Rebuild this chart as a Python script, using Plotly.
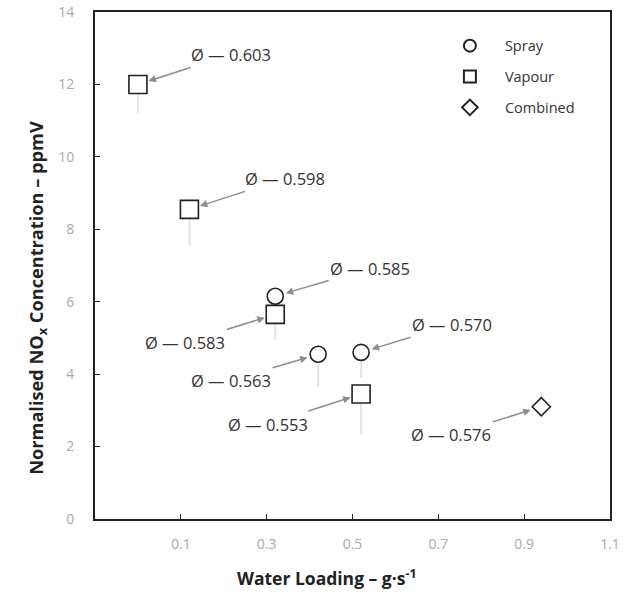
import plotly.graph_objects as go

# ---- data ----
spray_x = [0.32, 0.42, 0.52]
spray_y = [6.15, 4.55, 4.60]
spray_err = [0.6, 0.9, 0.7]

vapour_x = [0.00, 0.12, 0.32, 0.52]
vapour_y = [12.0, 8.55, 5.65, 3.45]
vapour_err = [0.8, 1.0, 0.7, 1.1]

combined_x = [0.94]
combined_y = [3.10]
combined_err = [0.4]

phi_labels = ["Ø — 0.603", "Ø — 0.598", "Ø — 0.585", "Ø — 0.583",
              "Ø — 0.563", "Ø — 0.570", "Ø — 0.553", "Ø — 0.576"]
phi_x = [0.00, 0.12, 0.32, 0.32, 0.42, 0.52, 0.52, 0.94]
phi_y = [12.0, 8.55, 6.15, 5.65, 4.55, 4.60, 3.45, 3.10]

x_ticks = [0.1, 0.3, 0.5, 0.7, 0.9, 1.1]
y_ticks = [0, 2, 4, 6, 8, 10, 12, 14]

x_title = "<b>Water Loading – g·s<sup>-1</sup></b>"
y_title = "<b>Normalised NO<sub>x</sub> Concentration – ppmV</b>"

# ---- styles (pixel offsets of labels) ----
label_offsets = [(93, -30), (96, -31), (95, -28), (-90, 28),
                 (-87, 26), (91, -28), (-93, 30), (-90, 28)]

FONT = "Open Sans"
err_style = dict(type="data", symmetric=False, color="#e4e4e4", thickness=2, width=0)
mk_line = dict(color="#222", width=1.6)

fig = go.Figure()
fig.add_trace(go.Scatter(
    x=spray_x, y=spray_y, mode="markers", name="Spray", legendgroup="a",
    marker=dict(symbol="circle", size=16, color="white", line=mk_line),
    error_y=dict(array=[0]*len(spray_err), arrayminus=spray_err, **err_style)))
fig.add_trace(go.Scatter(
    x=vapour_x, y=vapour_y, mode="markers", name="Vapour", legendgroup="b",
    marker=dict(symbol="square", size=18, color="white", line=mk_line),
    error_y=dict(array=[0]*len(vapour_err), arrayminus=vapour_err, **err_style)))
fig.add_trace(go.Scatter(
    x=combined_x, y=combined_y, mode="markers", name="Combined", legendgroup="c",
    marker=dict(symbol="diamond", size=14, color="white", line=mk_line),
    error_y=dict(array=combined_err, arrayminus=[0]*len(combined_err), **err_style)))

for t, x, y, (ax, ay) in zip(phi_labels, phi_x, phi_y, label_offsets):
    fig.add_annotation(x=x, y=y, text=t, showarrow=True, ax=ax, ay=ay,
                       arrowhead=2, arrowsize=1, arrowwidth=1.5, arrowcolor="#8e8e8e",
                       standoff=11, font=dict(family=FONT, size=16.5, color="#333"))

# axis titles as annotations (off-centre in the reference)
fig.add_annotation(xref="paper", yref="paper", x=0.449, y=-0.116, text=x_title,
                   showarrow=False, xanchor="center", yanchor="middle",
                   font=dict(family=FONT, size=17.5, color="#222"))
fig.add_annotation(xref="paper", yref="paper", x=-0.111, y=0.436, text=y_title,
                   showarrow=False, xanchor="center", yanchor="middle", textangle=-90,
                   font=dict(family=FONT, size=18.2, color="#222"))

fig.update_layout(
    width=634, height=598,
    margin=dict(l=95, r=24, t=12, b=79),
    paper_bgcolor="white", plot_bgcolor="white",
    font=dict(family=FONT, color="#333"),
    showlegend=True,
    legend=dict(x=0.66, y=0.965, xanchor="left", yanchor="top",
                bgcolor="rgba(0,0,0,0)", font=dict(family=FONT, size=14.5, color="#333"),
                itemsizing="constant", itemwidth=60, tracegroupgap=9, traceorder="grouped"),
    xaxis=dict(range=[-0.1, 1.1], tickvals=x_ticks, ticktext=[f"{v:g}" for v in x_ticks],
               automargin=False,
               showgrid=False, zeroline=False, showline=True, linecolor="#222", linewidth=2,
               mirror=True, ticks="inside", ticklen=5, tickcolor="#222",
               tickfont=dict(family=FONT, size=14, color="#aaa"), ticklabelstandoff=11),
    yaxis=dict(range=[0, 14], tickvals=y_ticks, automargin=False,
               showgrid=False, zeroline=False, showline=True, linecolor="#222", linewidth=2,
               mirror=True, ticks="inside", ticklen=5, tickcolor="#222",
               tickfont=dict(family=FONT, size=14, color="#aaa"), ticklabelstandoff=16),
)

fig.write_html("out.html")
